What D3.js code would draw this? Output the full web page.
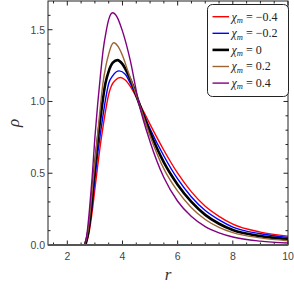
<!DOCTYPE html>
<html>
<head>
<meta charset="utf-8">
<script src="https://cdn.jsdelivr.net/npm/d3@7"></script>
<style>
  body { margin: 0; background: #fff; }
  svg { display: block; }
  .tick-label { font-family: "Liberation Sans", Arial, sans-serif; font-size: 10.5px; fill: #444; }
</style>
</head>
<body>
<svg id="chart" width="294" height="291"></svg>
<script>
// readings, [r, rho]
let chiLabels = ['\u22120.4', '\u22120.2', '0', '0.2', '0.4'];
let seriesColors = ['#ff0000', '#0000ff', '#000000', '#996633', '#800080'];

let rhoNeg04 = [[2.68,0],[2.8,0.1],[2.9,0.23],[3.0,0.39],[3.1,0.55],[3.2,0.7],[3.3,0.83],[3.4,0.95],[3.5,1.05],[3.6,1.11],[3.75,1.15],[3.92,1.167],[4.1,1.15],[4.3,1.1],[4.58,1.0],[5.0,0.84],[5.5,0.66],[6.0,0.5],[6.5,0.37],[7,0.27],[7.5,0.2],[8,0.145],[9,0.09],[10,0.062]];
let rhoNeg02 = [[2.66,0],[2.8,0.13],[2.9,0.28],[3.0,0.46],[3.1,0.63],[3.2,0.777],[3.3,0.91],[3.4,1.03],[3.5,1.125],[3.65,1.18],[3.88,1.213],[4.1,1.19],[4.3,1.12],[4.58,1.0],[5.0,0.81],[5.5,0.62],[6.0,0.46],[6.5,0.335],[7,0.24],[7.5,0.175],[8,0.125],[9,0.078],[10,0.053]];
let rhoZero = [[2.64,0],[2.75,0.08],[2.85,0.23],[2.95,0.45],[3.05,0.64],[3.15,0.81],[3.25,0.96],[3.38,1.125],[3.5,1.21],[3.65,1.27],[3.82,1.288],[4.0,1.26],[4.2,1.19],[4.4,1.1],[4.58,1.0],[5.0,0.785],[5.5,0.575],[6.0,0.42],[6.5,0.3],[7,0.21],[7.5,0.148],[8,0.104],[9,0.062],[10,0.04]];
let rhoPos02 = [[2.63,0],[2.75,0.1],[2.85,0.27],[2.95,0.48],[3.05,0.67],[3.15,0.87],[3.29,1.125],[3.4,1.25],[3.5,1.33],[3.6,1.39],[3.68,1.409],[3.85,1.38],[4.0,1.32],[4.2,1.21],[4.4,1.1],[4.58,1.0],[5.0,0.76],[5.5,0.53],[6.0,0.375],[6.5,0.26],[7,0.178],[7.5,0.123],[8,0.086],[9,0.05],[10,0.03]];
let rhoPos04 = [[2.62,0],[2.7,0.06],[2.8,0.24],[2.9,0.47],[3.0,0.75],[3.1,0.98],[3.2,1.18],[3.3,1.36],[3.4,1.48],[3.5,1.57],[3.64,1.618],[3.8,1.59],[4.0,1.49],[4.28,1.288],[4.58,1.0],[5.0,0.72],[5.5,0.47],[6.0,0.305],[6.5,0.198],[7,0.128],[7.5,0.085],[8,0.056],[9,0.027],[10,0.014]];
let seriesData = [rhoNeg04, rhoNeg02, rhoZero, rhoPos02, rhoPos04];

let xMajor = [2, 4, 6, 8, 10];
let yMajor = [0, 0.5, 1.0, 1.5];

let margin = {left: 48, right: 6, top: 1, bottom: 46};
let width = 294, height = 291;

let svg = d3.select('#chart');

let x = d3.scaleLinear().domain([1.3, 10]).range([margin.left, width - margin.right]);
let y = d3.scaleLinear().domain([0, 1.7]).range([height - margin.bottom, margin.top]);

let x0 = x.range()[0], x1 = x.range()[1];
let y0 = y.range()[0], y1 = y.range()[1];

// curves
let line = d3.line()
    .x(d => x(d[0]))
    .y(d => y(d[1]))
    .curve(d3.curveMonotoneX);

let plot = svg.append('g');
plot.append('clipPath').attr('id', 'clip')
    .append('rect').attr('x', x0).attr('y', y1).attr('width', x1 - x0).attr('height', y0 - y1);

plot.append('g').attr('clip-path', 'url(#clip)')
    .selectAll('path')
    .data(seriesData)
    .join('path')
    .attr('fill', 'none')
    .attr('stroke', (d, i) => seriesColors[i])
    .attr('stroke-width', (d, i) => i === 2 ? 2.6 : 1.4)
    .attr('d', line);

// frame and ticks
let frame = svg.append('g');
frame.append('rect')
    .attr('x', x0).attr('y', y1)
    .attr('width', x1 - x0).attr('height', y0 - y1)
    .attr('fill', 'none').attr('stroke', '#222').attr('stroke-width', 1);

let xMinor = d3.range(1.5, 10.01, 0.5).filter(v => !xMajor.includes(v));
let yMinor = d3.range(0.1, 1.7, 0.1).map(v => +v.toFixed(1)).filter(v => !yMajor.includes(v));

let tickSet = [
  ...xMajor.map(v => ({v, len: 4.5, axis: 'x'})),
  ...xMinor.map(v => ({v, len: 2.5, axis: 'x'})),
  ...yMajor.map(v => ({v, len: 4.5, axis: 'y'})),
  ...yMinor.map(v => ({v, len: 2.5, axis: 'y'}))
];

tickSet.forEach(t => {
  if (t.axis === 'x') {
    let px = x(t.v);
    frame.append('line').attr('x1', px).attr('x2', px).attr('y1', y0).attr('y2', y0 - t.len)
        .attr('stroke', '#222');
    frame.append('line').attr('x1', px).attr('x2', px).attr('y1', y1).attr('y2', y1 + t.len)
        .attr('stroke', '#222');
  } else {
    let py = y(t.v);
    frame.append('line').attr('x1', x0).attr('x2', x0 + t.len).attr('y1', py).attr('y2', py)
        .attr('stroke', '#222');
    frame.append('line').attr('x1', x1).attr('x2', x1 - t.len).attr('y1', py).attr('y2', py)
        .attr('stroke', '#222');
  }
});

// zero axis line over the frame bottom
frame.append('line')
    .attr('x1', x0).attr('x2', x1).attr('y1', y(0)).attr('y2', y(0))
    .attr('stroke', '#555').attr('stroke-width', 1.8);

svg.append('g').selectAll('text')
    .data(xMajor)
    .join('text')
    .attr('class', 'tick-label')
    .attr('x', d => x(d))
    .attr('y', y0 + 15)
    .attr('text-anchor', 'middle')
    .text(d => d);

svg.append('g').selectAll('text')
    .data(yMajor)
    .join('text')
    .attr('class', 'tick-label')
    .attr('x', x0 - 3)
    .attr('y', d => y(d) + 3.8)
    .attr('text-anchor', 'end')
    .text(d => d.toFixed(1));

// axis labels
svg.append('text')
    .attr('transform', `translate(19, ${(y0 + y1) / 2}) rotate(-90)`)
    .attr('text-anchor', 'middle')
    .attr('font-family', '"Liberation Serif", serif')
    .attr('font-style', 'italic')
    .attr('font-size', 17)
    .attr('fill', '#333')
    .text('\u03c1');

svg.append('text')
    .attr('x', (x0 + x1) / 2)
    .attr('y', 280)
    .attr('text-anchor', 'middle')
    .attr('font-family', '"Liberation Serif", serif')
    .attr('font-style', 'italic')
    .attr('font-size', 17)
    .attr('fill', '#333')
    .text('r');

// legend
let legend = svg.append('g');
legend.append('rect')
    .attr('x', 207.5).attr('y', 4.5)
    .attr('width', 81).attr('height', 92)
    .attr('rx', 5).attr('ry', 5)
    .attr('fill', '#fff').attr('stroke', '#222').attr('stroke-width', 1);

let items = legend.selectAll('g.item')
    .data(chiLabels)
    .join('g')
    .attr('class', 'item')
    .attr('transform', (d, i) => `translate(0, ${16.7 + i * 16.6})`);

items.append('line')
    .attr('x1', 212.5).attr('x2', 229)
    .attr('stroke', (d, i) => seriesColors[i])
    .attr('stroke-width', (d, i) => i === 2 ? 2.6 : 1.4);

let lt = items.append('text')
    .attr('x', 231.5)
    .attr('y', 3.8)
    .attr('font-family', '"Liberation Serif", serif')
    .attr('font-size', 12)
    .attr('fill', '#222');
lt.append('tspan').attr('font-style', 'italic').text('\u03c7');
lt.append('tspan').attr('font-style', 'italic').attr('font-size', 8.5).attr('dy', 2.5).text('m');
lt.append('tspan').attr('dy', -2.5).text(d => ' = ' + d);
</script>
</body>
</html>
